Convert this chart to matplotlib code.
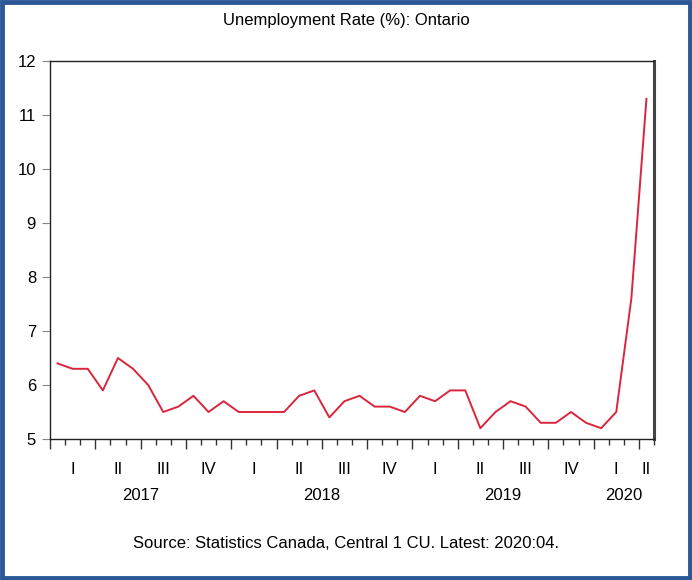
import numpy as np
import matplotlib.pyplot as plt
from matplotlib.patches import Rectangle

plt.rcParams['font.family'] = ['Liberation Sans', 'DejaVu Sans']

# Monthly unemployment rate, Ontario, 2017:01 - 2020:04
rate_2017 = [6.4, 6.3, 6.3, 5.9, 6.5, 6.3, 6.0, 5.5, 5.6, 5.8, 5.5, 5.7]
rate_2018 = [5.5, 5.5, 5.5, 5.5, 5.8, 5.9, 5.4, 5.7, 5.8, 5.6, 5.6, 5.5]
rate_2019 = [5.8, 5.7, 5.9, 5.9, 5.2, 5.5, 5.7, 5.6, 5.3, 5.3, 5.5, 5.3]
rate_2020 = [5.2, 5.5, 7.6, 11.3]
rate = rate_2017 + rate_2018 + rate_2019 + rate_2020

quarter_labels = ['I', 'II', 'III', 'IV'] * 3 + ['I', 'II']
years = ['2017', '2018', '2019', '2020']

n = len(rate)
months = np.arange(n)

fig = plt.figure(figsize=(6.92, 5.8), dpi=100)
ax = fig.add_axes([50 / 692, 1 - 439 / 580, 604 / 692, 378 / 580])

ax.plot(months, rate, color='#d9263c', lw=1.4)

ax.set_xlim(-0.5, n - 0.5)
ax.set_ylim(5, 12)
ax.set_yticks(range(5, 13))
ax.tick_params(axis='y', length=6, color='#888888', labelsize=12, pad=4)

# month boundaries as ticks, longer at quarter boundaries
bounds = np.arange(-0.5, n, 1.0)
ax.set_xticks(bounds[::3])
ax.set_xticks(bounds, minor=True)
ax.set_xticklabels([])
ax.tick_params(axis='x', which='major', length=7, width=1, color='#333333')
ax.tick_params(axis='x', which='minor', length=4, width=1, color='#333333')

# quarter labels
for q, lab in enumerate(quarter_labels):
    centre = min(q * 3 + 1, n - 1)
    ax.text(centre, -0.08, lab, transform=ax.get_xaxis_transform(),
            ha='center', va='center', fontsize=12)

# year labels
for k, yr in enumerate(years):
    start = k * 12 - 0.5
    end = min(start + 12, n - 0.5)
    ax.text((start + end) / 2, -0.15, yr, transform=ax.get_xaxis_transform(),
            ha='center', va='center', fontsize=12)

for s in ['left', 'top', 'bottom']:
    ax.spines[s].set_linewidth(1.0)
    ax.spines[s].set_color('#222222')
ax.spines['right'].set_linewidth(2.2)
ax.spines['right'].set_color('#444444')

fig.text(0.5, 1 - 20 / 580, 'Unemployment Rate (%): Ontario',
         ha='center', va='center', fontsize=12)
fig.text(0.5, 1 - 543 / 580, 'Source: Statistics Canada, Central 1 CU. Latest: 2020:04.',
         ha='center', va='center', fontsize=12)

fig.patches.append(Rectangle((0.003, 0.004), 0.994, 0.992, transform=fig.transFigure,
                             fill=False, edgecolor='#2b5797', lw=3.5))

fig.savefig('out.png', dpi=100)
